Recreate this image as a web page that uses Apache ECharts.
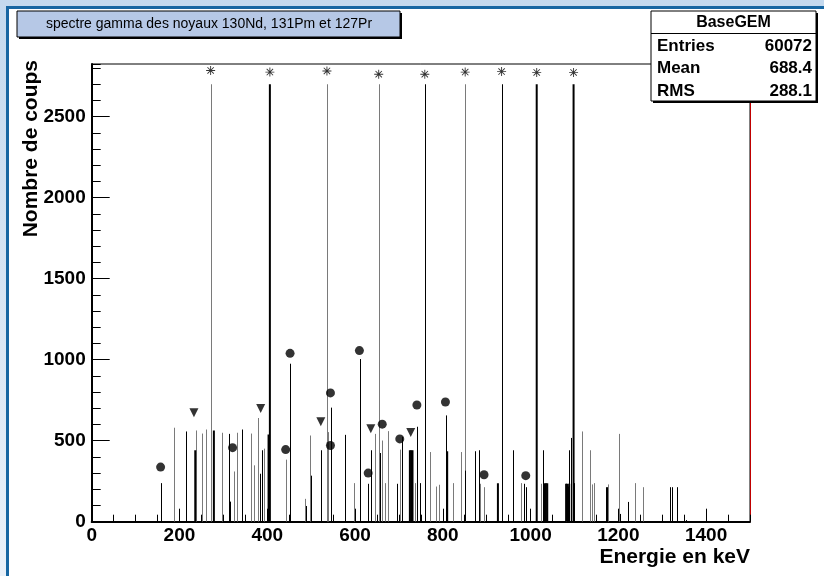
<!DOCTYPE html>
<html>
<head>
<meta charset="utf-8">
<script src="https://cdn.jsdelivr.net/npm/echarts@6/dist/echarts.min.js"></script>
<style>
  html, body { margin: 0; padding: 0; }
  body {
    width: 824px; height: 576px; overflow: hidden; position: relative;
    background: linear-gradient(180deg, #c4d9ee 0%, #dbe7f4 60%, #eaf1f9 100%);
  }
  .pad {
    position: absolute; left: 6px; top: 6px; width: 818px; height: 570px;
    box-sizing: border-box; background: #fff;
    border-left: 3px solid #1766a2; border-top: 3px solid #1766a2;
  }
  #main { position: absolute; left: 0; top: 0; width: 824px; height: 576px; }
</style>
</head>
<body>
<div class="pad"></div>
<div id="main"></div>
<script>
// energy (keV), counts
const faintLines = [
  [186.6, 580], [237.5, 563], [251, 544], [259.5, 569], [297.4, 549], [324, 310],
  [330, 549], [362, 544], [370, 348], [378, 640], [392, 451], [441.6, 383],
  [485, 141], [497.6, 532], [538.7, 553], [597, 238], [645.6, 542], [662, 501],
  [667.7, 238], [674.5, 559], [701.8, 445], [736, 238], [771.7, 430], [785, 217],
  [791, 228], [823, 238], [840.6, 430], [885.5, 234], [895, 213], [979, 238],
  [1024, 234], [1081, 234], [1117, 557], [1136, 441], [1139.6, 230], [1144, 238],
  [1176, 230], [1201, 542], [1237, 238], [1256.5, 213],
  [271, 2700], [536, 2700], [654, 2700], [851, 2700]
];
const darkLines = [
  [157, 238], [214, 557], [312.5, 542], [314.8, 124], [343, 569], [383.9, 296],
  [387, 441], [452, 975], [488, 97], [500, 284], [522, 441], [545.5, 704],
  [576.6, 536], [610.7, 1004], [629.7, 234], [637, 441], [656, 424], [695.7, 234],
  [707.9, 524], [741, 586], [748, 238], [806.5, 232], [807.3, 656], [849.8, 315],
  [873, 435], [882, 441], [960, 441], [985, 234], [990, 213], [1029, 441],
  [1085, 217], [1087, 441], [1092.6, 517], [1100, 238], [1171, 213], [1174, 213],
  [1203, 48], [1221.5, 122], [1318, 213], [1321.6, 213], [1333, 213], [1354, 10],
  [759, 2700], [934, 2700]
];
const heavyLines = [
  [236, 441], [278.4, 563], [403, 538], [725, 441], [728, 441], [731, 441],
  [810, 435], [925.6, 238], [1032, 238], [1035, 238], [1038, 238],
  [1081, 234], [1084, 234], [1088, 234],
  [406, 2700], [1014, 2700], [1098, 2700]
];
// peak markers
const starMarks = [
  [271, 2785], [406, 2775], [536, 2782], [654, 2762], [759, 2762],
  [851, 2775], [934, 2778], [1014, 2773], [1098, 2773]
];
const dotMarks = [
  [157, 337], [321, 457], [442, 445], [452, 1039], [544, 795], [544, 470],
  [610, 1056], [630, 300], [662, 602], [702, 511], [741, 720], [806, 739],
  [894, 290], [989, 284]
];
const triangleMarks = [
  [233, 673], [385, 698], [522, 617], [636, 573], [727, 551]
];
const statsRows = [
  ['Entries', '60072'],
  ['Mean', '688.4'],
  ['RMS', '288.1']
];

const FONT = 'Liberation Sans, Arial, sans-serif';
const Y_MAX = 2825;
const asterisk = 'path://M4.5 0h1v10h-1Z M0 4.5h10v1h-10Z M1.1 1.8L1.8 1.1L8.9 8.2L8.2 8.9Z M8.2 1.1L8.9 1.8L1.8 8.9L1.1 8.2Z';

function spike(width, color) {
  return function (params, api) {
    const base = api.coord([api.value(0), 0]);
    const top = api.coord([api.value(0), api.value(1)]);
    let x = base[0];
    if (width === 1) x = Math.round(x) + 0.5;
    return {
      type: 'line',
      shape: { x1: x, y1: base[1], x2: x, y2: top[1] },
      style: { stroke: color, lineWidth: width }
    };
  };
}

function spikeSeries(data, width, color) {
  return {
    type: 'custom',
    xAxisIndex: 0,
    yAxisIndex: 0,
    clip: true,
    encode: { x: 0, y: 1 },
    renderItem: spike(width, color),
    data: data,
    silent: true
  };
}

const statsGraphics = [];
statsRows.forEach((row, i) => {
  const y = 46 + i * 22.5;
  statsGraphics.push({
    type: 'text', x: 657, y: y,
    style: { text: row[0], font: 'bold 17px ' + FONT, fill: '#000', align: 'left', verticalAlign: 'middle' }
  });
  statsGraphics.push({
    type: 'text', x: 812, y: y,
    style: { text: row[1], font: 'bold 17px ' + FONT, fill: '#000', align: 'right', verticalAlign: 'middle' }
  });
});

const plain = (v) => String(v);

const chart = echarts.init(document.getElementById('main'), null, { renderer: 'canvas' });
const option = {
  backgroundColor: 'transparent',
  animation: false,
  grid: {
    left: 91.7, right: 74, top: 64, bottom: 54.3,
    show: true, borderColor: '#000', borderWidth: 1, backgroundColor: 'transparent'
  },
  xAxis: [
    {
      type: 'value', min: 0, max: 1500, interval: 50, position: 'bottom',
      axisLine: { show: true, onZero: false, lineStyle: { color: '#000', width: 2 } },
      axisTick: { show: true, inside: true, length: 7, lineStyle: { color: '#000' } },
      axisLabel: { show: false },
      splitLine: { show: false }
    },
    {
      type: 'value', min: 0, max: 1500, interval: 200, position: 'bottom',
      axisLine: { show: false },
      axisTick: { show: true, inside: true, length: 13, lineStyle: { color: '#000' } },
      axisLabel: {
        show: true, margin: 5, showMaxLabel: false, formatter: plain,
        color: '#000', fontFamily: FONT, fontWeight: 'bold', fontSize: 19
      },
      splitLine: { show: false }
    }
  ],
  yAxis: [
    {
      type: 'value', min: 0, max: Y_MAX, interval: 100, position: 'left',
      axisLine: { show: true, onZero: false, lineStyle: { color: '#000', width: 2 } },
      axisTick: { show: true, inside: true, length: 9, lineStyle: { color: '#000' } },
      axisLabel: { show: false },
      splitLine: { show: false }
    },
    {
      type: 'value', min: 0, max: Y_MAX, interval: 500, position: 'left',
      axisLine: { show: false },
      axisTick: { show: true, inside: true, length: 18, lineStyle: { color: '#000' } },
      axisLabel: {
        show: true, margin: 6, showMaxLabel: false, formatter: plain,
        color: '#000', fontFamily: FONT, fontWeight: 'bold', fontSize: 19
      },
      splitLine: { show: false }
    },
    {
      type: 'value', min: 0, max: Y_MAX, position: 'right',
      axisLine: { show: true, onZero: false, lineStyle: { color: '#c00000', width: 1 } },
      axisTick: { show: false },
      axisLabel: { show: false },
      splitLine: { show: false }
    }
  ],
  series: [
    spikeSeries(faintLines, 1, '#7a7a7a'),
    spikeSeries(darkLines, 1, '#000'),
    spikeSeries(heavyLines, 2, '#000'),
    {
      type: 'scatter', data: starMarks, symbol: asterisk, symbolSize: 9,
      itemStyle: { color: '#000' }, silent: true, z: 5
    },
    {
      type: 'scatter', data: dotMarks, symbol: 'circle', symbolSize: 9,
      itemStyle: { color: '#000' }, silent: true, z: 5
    },
    {
      type: 'scatter', data: triangleMarks, symbol: 'triangle', symbolRotate: 180, symbolSize: 9,
      itemStyle: { color: '#000' }, silent: true, z: 5
    }
  ],
  graphic: [
    // title pave
    { type: 'rect', shape: { x: 19, y: 13, width: 383, height: 26 }, style: { fill: '#000' }, z: 10 },
    { type: 'rect', shape: { x: 17, y: 11, width: 383, height: 26 }, style: { fill: '#b6c8e6', stroke: '#000', lineWidth: 1 }, z: 11 },
    {
      type: 'text', x: 209, y: 24.5, z: 12,
      style: {
        text: 'spectre gamma des noyaux 130Nd, 131Pm et 127Pr',
        font: '14px ' + FONT, fill: '#000', align: 'center', verticalAlign: 'middle'
      }
    },
    // stats box
    { type: 'rect', shape: { x: 653, y: 13, width: 165, height: 90 }, style: { fill: '#000' }, z: 10 },
    { type: 'rect', shape: { x: 651, y: 11, width: 165, height: 90 }, style: { fill: '#fff', stroke: '#000', lineWidth: 1 }, z: 11 },
    { type: 'line', shape: { x1: 651, y1: 33.5, x2: 816, y2: 33.5 }, style: { stroke: '#000', lineWidth: 1 }, z: 12 },
    {
      type: 'text', x: 733.5, y: 22.5, z: 12,
      style: { text: 'BaseGEM', font: 'bold 16px ' + FONT, fill: '#000', align: 'center', verticalAlign: 'middle' }
    },
    {
      type: 'group', z: 12,
      children: statsGraphics.map((g) => Object.assign({ z: 12 }, g))
    },
    // axis titles
    {
      type: 'text', x: 750, y: 557, z: 12,
      style: { text: 'Energie en keV', font: 'bold 21px ' + FONT, fill: '#000', align: 'right', verticalAlign: 'middle' }
    },
    {
      type: 'text', x: 31, y: 60, rotation: Math.PI / 2, z: 12,
      style: { text: 'Nombre de coups', font: 'bold 21px ' + FONT, fill: '#000', align: 'right', verticalAlign: 'middle' }
    }
  ]
};
chart.setOption(option);
</script>
</body>
</html>
